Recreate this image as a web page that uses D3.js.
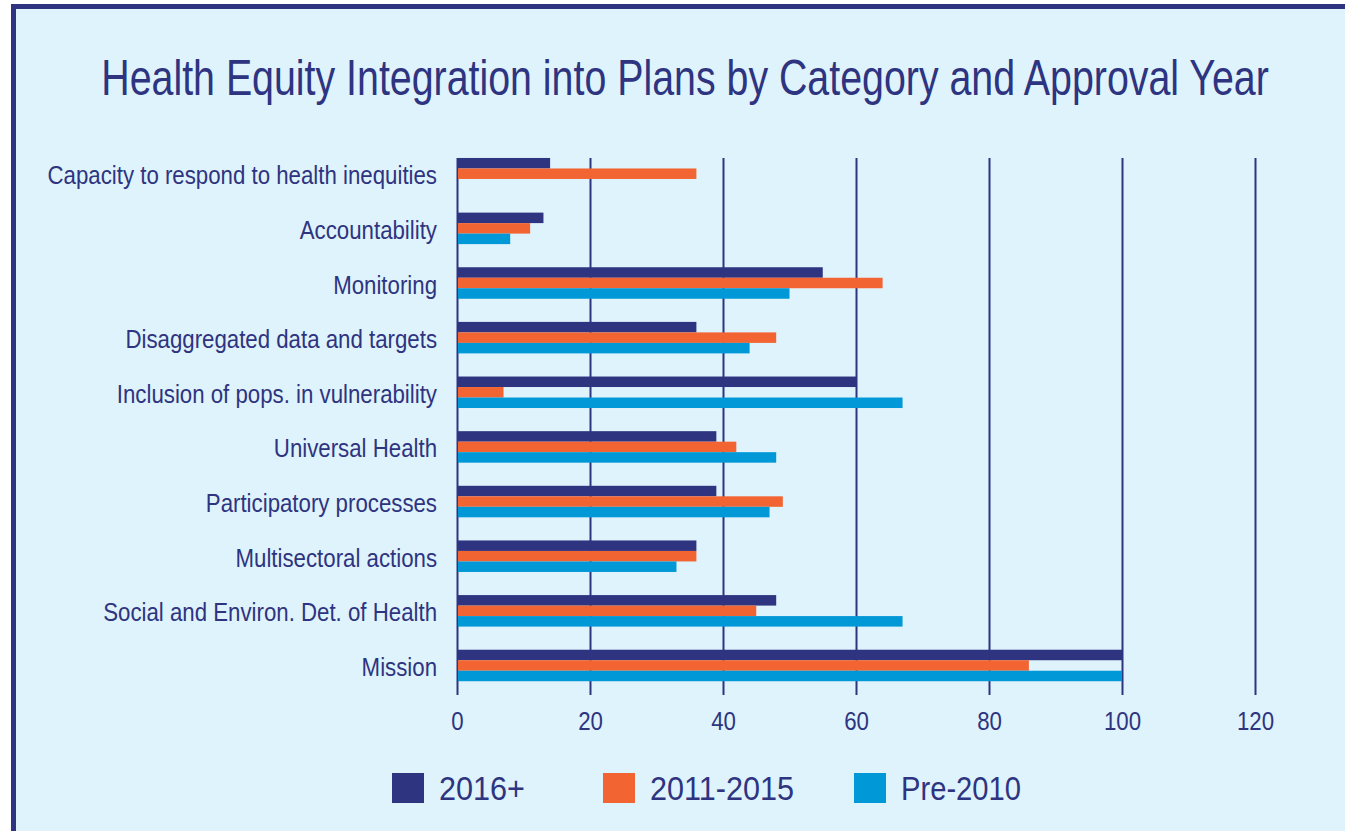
<!DOCTYPE html>
<html>
<head>
<meta charset="utf-8">
<script src="https://cdn.jsdelivr.net/npm/d3@7"></script>
<style>
  html, body { margin: 0; padding: 0; background: #ffffff; }
  svg { display: block; }
  text { font-family: "Liberation Sans", Arial, sans-serif; fill: #2e3480; }
</style>
</head>
<body>
<div id="main"></div>
<script>
"use strict";

var categories = [
  "Capacity to respond to health inequities",
  "Accountability",
  "Monitoring",
  "Disaggregated data and targets",
  "Inclusion of pops. in vulnerability",
  "Universal Health",
  "Participatory processes",
  "Multisectoral actions",
  "Social and Environ. Det. of Health",
  "Mission"
];
var series = ["2016+", "2011-2015", "Pre-2010"];
var values2016 = [14, 13, 55, 36, 60, 39, 39, 36, 48, 100];
var values2011 = [36, 11, 64, 48, 7, 42, 49, 36, 45, 86];
var valuesPre2010 = [0, 8, 50, 44, 67, 48, 47, 33, 67, 100];
var xTicks = [0, 20, 40, 60, 80, 100, 120];
var colors = ["#2e3480", "#f26532", "#0098d6"];

var CH = {
  w: 1345,
  h: 831,
  narrow: 0.89, // condensed look: squeeze the text horizontally
  svg: null,
  init: function() {
    this.svg = d3.select("#main").append("svg")
      .attr("width", CH.w)
      .attr("height", CH.h);
    this.drawFrame();
    this.drawChart();
    this.drawLegend();
  },
  drawFrame: function() {
    // panel is cropped: only the top and left edges of the border show
    CH.svg.append("rect")
      .attr("x", 13.5).attr("y", 6.5)
      .attr("width", CH.w + 20).attr("height", CH.h + 20)
      .attr("fill", "#dff3fc")
      .attr("stroke", "#2e3480")
      .attr("stroke-width", 5);
    var title = CH.svg.append("text")
      .attr("x", 0).attr("y", 0)
      .attr("text-anchor", "middle")
      .attr("font-size", 50)
      .text("Health Equity Integration into Plans by Category and Approval Year");
    var k = 1168 / title.node().getComputedTextLength();
    title.attr("transform", "translate(685,95) scale(" + k + ",1)");
  },
  drawChart: function() {
    var rows = categories.map(function(c, i) {
      return { cat: c, vals: [values2016[i], values2011[i], valuesPre2010[i]] };
    });
    var x = d3.scaleLinear().domain([0, 120]).range([457, 1255]);
    var y = d3.scaleBand().domain(categories).range([146.4, 692.8])
      .paddingInner(0.4235).paddingOuter(0.21175);
    var ys = d3.scaleBand().domain(series).range([0, y.bandwidth()]);

    var gx = CH.svg.append("g")
      .attr("transform", "translate(0,695)")
      .call(d3.axisBottom(x).tickValues(xTicks).tickSize(-(695 - 158)).tickPadding(17));
    gx.attr("font-family", null);
    gx.select(".domain").remove();
    gx.selectAll(".tick line").attr("stroke", "#2e3480").attr("stroke-width", 2);
    gx.selectAll(".tick text")
      .attr("font-size", 25)
      .attr("fill", "#2e3480")
      .attr("transform", "scale(" + CH.narrow + ",1)");

    CH.svg.append("g").selectAll("g")
      .data(rows)
      .join("g")
      .attr("transform", function(d) { return "translate(0," + y(d.cat) + ")"; })
      .selectAll("rect")
      .data(function(d) { return d.vals; })
      .join("rect")
      .attr("x", x(0) + 1)
      .attr("y", function(d, i) { return ys(series[i]); })
      .attr("width", function(d) { return Math.max(0, x(d) - x(0) - 1); })
      .attr("height", ys.bandwidth())
      .attr("fill", function(d, i) { return colors[i]; });

    var gy = CH.svg.append("g")
      .attr("transform", "translate(457,0)")
      .call(d3.axisLeft(y).tickSize(0).tickPadding(20));
    gy.attr("font-family", null);
    gy.select(".domain").remove();
    gy.selectAll(".tick text")
      .attr("font-size", 25)
      .attr("fill", "#2e3480")
      .attr("x", -20 / CH.narrow)
      .attr("dy", "0.42em")
      .attr("transform", "scale(" + CH.narrow + ",1)");
  },
  drawLegend: function() {
    var lx = [392, 603, 854];
    var tw = [86, 144, 120];
    var lg = CH.svg.append("g").selectAll("g")
      .data(series)
      .join("g")
      .attr("transform", function(d, i) { return "translate(" + lx[i] + ",773)"; });
    lg.append("rect")
      .attr("width", 32).attr("height", 30)
      .attr("fill", function(d, i) { return colors[i]; });
    lg.append("text")
      .attr("x", 47).attr("y", 27)
      .attr("font-size", 33)
      .attr("textLength", function(d, i) { return tw[i]; })
      .attr("lengthAdjust", "spacingAndGlyphs")
      .text(function(d) { return d; });
  }
};

CH.init();
</script>
</body>
</html>
